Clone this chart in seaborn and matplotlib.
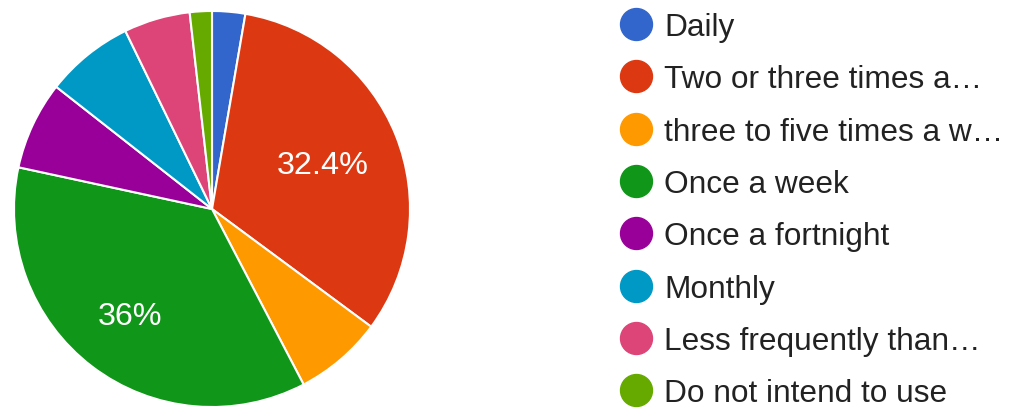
import matplotlib
matplotlib.use("Agg")
import matplotlib.pyplot as plt
from matplotlib.lines import Line2D
import numpy as np
import seaborn as sns

# survey answers (counts out of 111 responses)
categories = [
    "Daily",
    "Two or three times a…",
    "three to five times a w…",
    "Once a week",
    "Once a fortnight",
    "Monthly",
    "Less frequently than…",
    "Do not intend to use",
]
counts = [3, 36, 8, 40, 8, 8, 6, 2]
colors = ["#3366cc", "#dc3912", "#ff9900", "#109618",
          "#990099", "#0099c6", "#dd4477", "#66aa00"]

sns.set_theme(style="white")
plt.rcParams["font.family"] = ["Liberation Sans", "DejaVu Sans"]

fig = plt.figure(figsize=(10.1, 4.1), dpi=100)
ax = fig.add_axes([13 / 1010, 1 / 410, 398 / 1010, 398 / 410])


def fmt_pct(p):
    if p < 10:
        return ""
    s = f"{p:.1f}"
    if s.endswith(".0"):
        s = s[:-2]
    return s + "%"


wedges, texts, autotexts = ax.pie(
    counts,
    colors=sns.color_palette(colors),
    startangle=90,
    counterclock=False,
    autopct=fmt_pct,
    pctdistance=0.62,
    wedgeprops=dict(edgecolor="white", linewidth=1.5),
    textprops=dict(color="white", fontsize=23.3),
)
# nudge the big label a little farther out like the original
label_dist = [0.6, 0.6, 0.6, 0.68, 0.6, 0.6, 0.6, 0.6]
for w, t, d in zip(wedges, autotexts, label_dist):
    ang = np.deg2rad((w.theta1 + w.theta2) / 2)
    t.set_position((d * np.cos(ang), d * np.sin(ang)))
ax.set_xlim(-1.005, 1.005)
ax.set_ylim(-1.005, 1.005)
ax.set_aspect("equal")

handles = [
    Line2D([], [], marker="o", linestyle="", markersize=23,
           markerfacecolor=c, markeredgecolor=c)
    for c in colors
]
fig.legend(
    handles,
    categories,
    loc="upper left",
    bbox_to_anchor=(619.5 / 1010, 1 - 13 / 410),
    frameon=False,
    fontsize=22.8,
    handlelength=1.04,
    handletextpad=0.38,
    labelspacing=0.705,
    borderpad=0,
    borderaxespad=0,
    labelcolor="#222222",
)

fig.savefig("out.png", dpi=100)
